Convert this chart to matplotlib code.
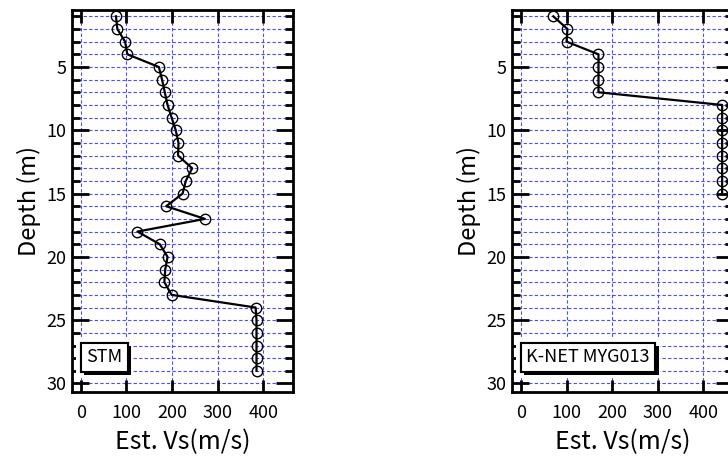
import matplotlib
matplotlib.use('Agg')
import matplotlib.pyplot as plt
import matplotlib.patheffects as pe
from matplotlib.ticker import MultipleLocator

plt.rcParams['font.family'] = ['Noto Sans CJK JP', 'DejaVu Sans']

# STM
stm_depth = list(range(1, 30))
stm_vs = [77, 80, 97, 102, 171, 178, 184, 190, 199, 208, 214, 213, 244, 230, 223,
          187, 272, 124, 173, 190, 185, 183, 199, 383, 385, 385, 385, 385, 385]

# K-NET MYG013
knet_depth = list(range(1, 16))
knet_vs = [71, 102, 100, 170, 170, 170, 170, 441, 441, 441, 441, 441, 441, 441, 441]

x_ticks = [0, 100, 200, 300, 400]
y_ticks = [5, 10, 15, 20, 25, 30]


def draw_profile(ax, vs, depth, name):
    # グリッド
    for x in x_ticks:
        ax.axvline(x, color='#4d4dff', lw=0.8, ls=(0, (3, 2)), zorder=1)
    for d in range(1, 31):
        ax.axhline(d, color='#4d4dff', lw=0.8, ls=(0, (3, 2)), zorder=1)

    ax.plot(vs, depth, color='black', lw=1.6, marker='o', markersize=7.5,
            markerfacecolor='none', markeredgecolor='black', markeredgewidth=1.0, zorder=3)

    ax.set_xlim(-20, 465)
    ax.set_ylim(30.65, 0.5)
    ax.set_xticks(x_ticks)
    ax.set_yticks(y_ticks)
    ax.yaxis.set_minor_locator(MultipleLocator(1))
    ax.tick_params(axis='both', which='both', direction='in', top=True, right=True,
                   labelsize=13, width=2)
    ax.tick_params(axis='x', which='major', length=9, pad=9)
    ax.tick_params(axis='y', which='major', length=12, pad=4)
    ax.tick_params(axis='y', which='minor', length=6)
    for s in ax.spines.values():
        s.set_linewidth(2)

    ax.set_xlabel('Est. Vs(m/s)', fontsize=18, labelpad=5)
    ax.set_ylabel('Depth (m)', fontsize=17, labelpad=4)

    # ラベル周りの白抜き
    ax.text(0.065, 0.067, name, transform=ax.transAxes, ha='left', va='bottom',
            fontsize=13, zorder=2, color='white',
            bbox=dict(boxstyle='square,pad=0.55', fc='white', ec='none'))
    t = ax.text(0.065, 0.067, name, transform=ax.transAxes, ha='left', va='bottom',
                fontsize=13, zorder=4,
                bbox=dict(boxstyle='square,pad=0.3', fc='white', ec='black', lw=1.5))
    t.get_bbox_patch().set_path_effects([
        pe.withSimplePatchShadow(offset=(2.5, -2.5), shadow_rgbFace='black', alpha=1.0),
        pe.Normal()])


fig = plt.figure(figsize=(7.28, 4.59), dpi=100)
ax1 = fig.add_axes([0.0985, 0.1466, 0.304, 0.8316])
ax2 = fig.add_axes([0.703, 0.1466, 0.304, 0.8316])

draw_profile(ax1, stm_vs, stm_depth, 'STM')
draw_profile(ax2, knet_vs, knet_depth, 'K-NET MYG013')

fig.savefig('out.png', dpi=100)
